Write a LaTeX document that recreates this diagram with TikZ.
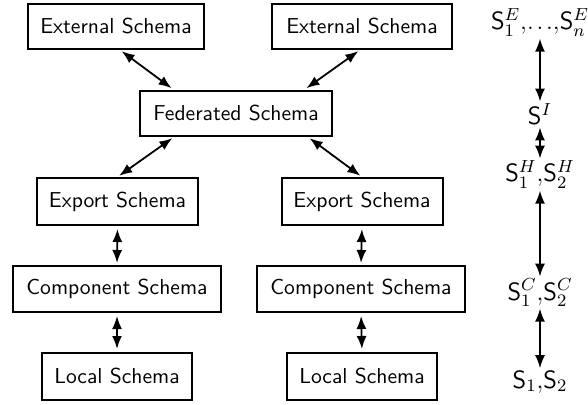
\RequirePackage{fix-cm}
\documentclass[tikz,border=0pt]{standalone}
\usetikzlibrary{arrows.meta,calc}
\begin{document}
\begin{tikzpicture}[x=0.5pt,y=-0.5pt,
  schema/.style={draw,line width=1pt,inner sep=0pt,minimum height=22.5pt,
    font=\sffamily\fontsize{10.8}{12}\selectfont},
  level/.style={inner sep=1pt,anchor=base,font=\fontsize{12.5}{14}\selectfont},
  link/.style={line width=0.9pt,{Latex[length=6.5pt,width=5pt]}-{Latex[length=6.5pt,width=5pt]}}]
\useasboundingbox (0,0) rectangle (588,405);

% schema boxes
\node[schema,minimum width=88pt] (ext1) at (116,26.5) {External Schema};
\node[schema,minimum width=90pt] (ext2) at (362,26.5) {External Schema};
\node[schema,minimum width=96pt] (fed) at (236,113.5) {Federated Schema};
\node[schema,minimum width=80.5pt,minimum height=23.5pt] (exp1) at (117.5,201.5) {Export Schema};
\node[schema,minimum width=80.5pt,minimum height=23.5pt] (exp2) at (362,201.5) {Export Schema};
\node[schema,minimum width=104pt,minimum height=23pt] (comp1) at (117,289) {Component Schema};
\node[schema,minimum width=104pt,minimum height=23pt] (comp2) at (361,289) {Component Schema};
\node[schema,minimum width=75pt,minimum height=23.5pt] (loc1) at (117,376.5) {Local Schema};
\node[schema,minimum width=75pt,minimum height=23.5pt] (loc2) at (362,376.5) {Local Schema};

% links between the schema levels
\draw[link,shorten <=1pt,shorten >=1.5pt] ([xshift=2pt]ext1.south) -- ([xshift=17.5pt]fed.north west);
\draw[link,shorten <=1pt,shorten >=1.5pt] ([xshift=-1pt]ext2.south) -- ([xshift=-14.5pt]fed.north east);
\draw[link,shorten <=1pt,shorten >=1pt] ([xshift=17.5pt]fed.south west) -- (exp1.north);
\draw[link,shorten <=1pt,shorten >=1pt] ([xshift=-12.5pt]fed.south east) -- (exp2.north);
\draw[link,shorten <=1.5pt,shorten >=1pt] (exp1.south) -- (comp1.north);
\draw[link,shorten <=1.5pt,shorten >=1pt] (exp2.south) -- (comp2.north);
\draw[link,shorten <=1.5pt,shorten >=1.5pt] (comp1.south) -- (loc1.north);
\draw[link,shorten <=1.5pt,shorten >=1.5pt] (comp2.south) -- (loc2.north);

% schema notation
\node[level] (se) at (540,30) {$\mathsf{S}^{E}_{1}{,}\mathord{\ldotp\mkern-1mu\ldotp\mkern-1mu\ldotp}{,}\mathsf{S}^{E}_{n}$};
\node[level] (si) at (540,125) {$\mathsf{S}^{I}$};
\node[level] (sh) at (540,182) {$\mathsf{S}^{H}_{1}{,}\mathsf{S}^{H}_{2}$};
\node[level] (sc) at (540,300) {$\mathsf{S}^{C}_{1}{,}\mathsf{S}^{C}_{2}$};
\node[level] (sl) at (540,388) {$\mathsf{S}_{1}{,}\mathsf{S}_{2}$};

\draw[link] (se.south -| si.north) -- (si.north);
\draw[link] (si.south) -- (si.south |- sh.north);
\draw[link] (sh.south -| si.south) -- (si.south |- sc.north);
\draw[link] (sc.south -| si.south) -- (si.south |- sl.north);
\end{tikzpicture}
\end{document}
